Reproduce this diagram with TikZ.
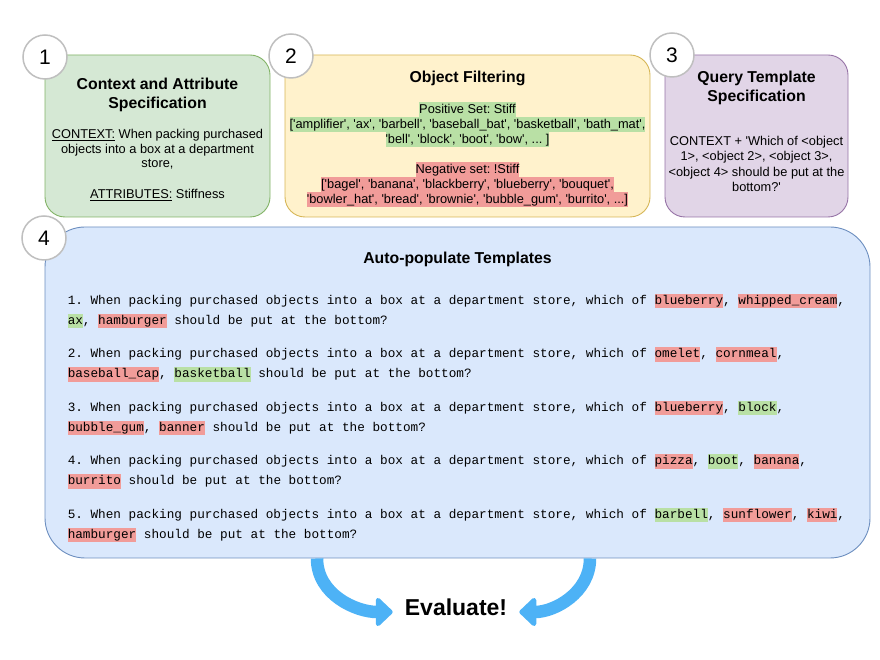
\documentclass[tikz,border=0pt]{standalone}
\usepackage{fontspec}
\setmainfont{Liberation Sans}[Ligatures=TeXOff]
\setmonofont{Liberation Mono}
\usetikzlibrary{arrows.meta, positioning}

\definecolor{ctxfill}{HTML}{D5E8D4}
\definecolor{ctxdraw}{HTML}{82B366}
\definecolor{filtfill}{HTML}{FFF2CC}
\definecolor{filtdraw}{HTML}{D6B656}
\definecolor{qryfill}{HTML}{E1D5E7}
\definecolor{qrydraw}{HTML}{9673A6}
\definecolor{autofill}{HTML}{DAE8FC}
\definecolor{autodraw}{HTML}{6C8EBF}
\definecolor{posgreen}{HTML}{B9E0A5}
\definecolor{negred}{HTML}{F19C99}
\definecolor{arrowblue}{RGB}{77,178,246}

% highlighted words and lines
\newcommand{\posword}[1]{{\setlength{\fboxsep}{0pt}\colorbox{posgreen}{\rule[-4pt]{0pt}{14.5pt}#1}}}
\newcommand{\negword}[1]{{\setlength{\fboxsep}{0pt}\colorbox{negred}{\rule[-4pt]{0pt}{14.5pt}#1}}}
\newcommand{\posline}[1]{{\setlength{\fboxsep}{0pt}\colorbox{posgreen}{\rule[-3.7pt]{0pt}{14.8pt}#1}}}
\newcommand{\negline}[1]{{\setlength{\fboxsep}{0pt}\colorbox{negred}{\rule[-3.7pt]{0pt}{14.8pt}#1}}}

\begin{document}
\frenchspacing
\begin{tikzpicture}[
    x=1pt, y=1pt,
    box/.style={draw, rounded corners=20pt, line width=0.9pt, minimum height=162pt},
    num/.style={circle, draw=black!25, fill=white, line width=1.5pt, minimum size=44pt, inner sep=0pt, font=\fontsize{21}{24}\selectfont},
    ttl/.style={inner sep=0pt, align=center, font=\bfseries\fontsize{15.8}{19.5}\selectfont},
    txt/.style={inner sep=0pt, align=center, font=\fontsize{12.8}{14.6}\selectfont},
    code/.style={inner sep=0pt, align=left, font=\ttfamily\fontsize{12.7}{20}\selectfont},
    flow/.style={line width=12.5pt, draw=arrowblue, -{Triangle[width=33pt, length=18pt, line width=5pt, round]}}
]
    \useasboundingbox (0,0) rectangle (880,660);

    % Stages
    \node[box, draw=ctxdraw, fill=ctxfill, minimum width=225pt] (ctx) at (157.5,524) {};
    \node[box, draw=filtdraw, fill=filtfill, minimum width=365pt] (filt) at (467.5,524) {};
    \node[box, draw=qrydraw, fill=qryfill, minimum width=183pt] (qry) at (756.5,524) {};
    \node[box, draw=autodraw, fill=autofill, rounded corners=40pt, minimum width=825pt, minimum height=331pt] (auto) at (457.5,267.5) {};

    % Step numbers
    \node[num] (n1) at (45,603) {1};
    \node[num] (n2) at (291,604) {2};
    \node[num] (n3) at (672,605) {3};
    \node[num] (n4) at (44,422) {4};

    % Context and attribute
    \node[ttl, below=23pt of ctx.north] (ctxT) {Context and Attribute\\Specification};
    \node[txt, below=17pt of ctxT] (ctxB) {\underline{CONTEXT:} When packing purchased\\
        objects into a box at a department\\
        store,\\[16pt]
        \underline{ATTRIBUTES:} Stiffness};

    % Object filtering
    \node[ttl, below=16pt of filt.north] (filtT) {Object Filtering};
    \node[txt, below=16pt of filtT, font=\fontsize{12.8}{15}\selectfont] (filtB) {\posline{Positive Set: Stiff}\\
        \posline{['amplifier', 'ax', 'barbell', 'baseball\_bat', 'basketball', 'bath\_mat',}\\
        \posline{'bell', 'block', 'boot', 'bow', ... ]}\\[15pt]
        \negline{Negative set: !Stiff}\\
        \negline{['bagel', 'banana', 'blackberry', 'blueberry', 'bouquet',}\\
        \negline{'bowler\_hat', 'bread', 'brownie', 'bubble\_gum', 'burrito', ...]}};

    % Query template
    \node[ttl, below=16pt of qry.north] (qryT) {Query Template\\Specification};
    \node[txt, below=31pt of qryT, font=\fontsize{12.8}{15.3}\selectfont] (qryB) {CONTEXT + 'Which of <object\\
        1>, <object 2>, <object 3>,\\
        <object 4> should be put at the\\
        bottom?'};

    % Auto-populated queries
    \node[ttl, below=25.5pt of auto.north] (autoT) {Auto-populate Templates};
    \node[code, below right=67pt and 23pt of auto.north west] (items) {1. When packing purchased objects into a box at a department store, which of \negword{blueberry}, \negword{whipped\_cream},\\
        \posword{ax}, \negword{hamburger} should be put at the bottom?\\[13.5pt]
        2. When packing purchased objects into a box at a department store, which of \negword{omelet}, \negword{cornmeal},\\
        \negword{baseball\_cap}, \posword{basketball} should be put at the bottom?\\[13.5pt]
        3. When packing purchased objects into a box at a department store, which of \negword{blueberry}, \posword{block},\\
        \negword{bubble\_gum}, \negword{banner} should be put at the bottom?\\[13.5pt]
        4. When packing purchased objects into a box at a department store, which of \negword{pizza}, \posword{boot}, \negword{banana},\\
        \negword{burrito} should be put at the bottom?\\[13.5pt]
        5. When packing purchased objects into a box at a department store, which of \posword{barbell}, \negword{sunflower}, \negword{kiwi},\\
        \negword{hamburger} should be put at the bottom?};

    % Evaluate
    \node[font=\bfseries\fontsize{23}{26}\selectfont, inner xsep=12pt] (eval) at (456,53) {Evaluate!};
    \draw[flow] ([xshift=-140.5pt]auto.south) to[out=-90, in=180] ([yshift=-5pt]eval.west);
    \draw[flow] ([xshift=132.5pt]auto.south) to[out=-90, in=0] ([yshift=-5pt]eval.east);
\end{tikzpicture}
\end{document}
